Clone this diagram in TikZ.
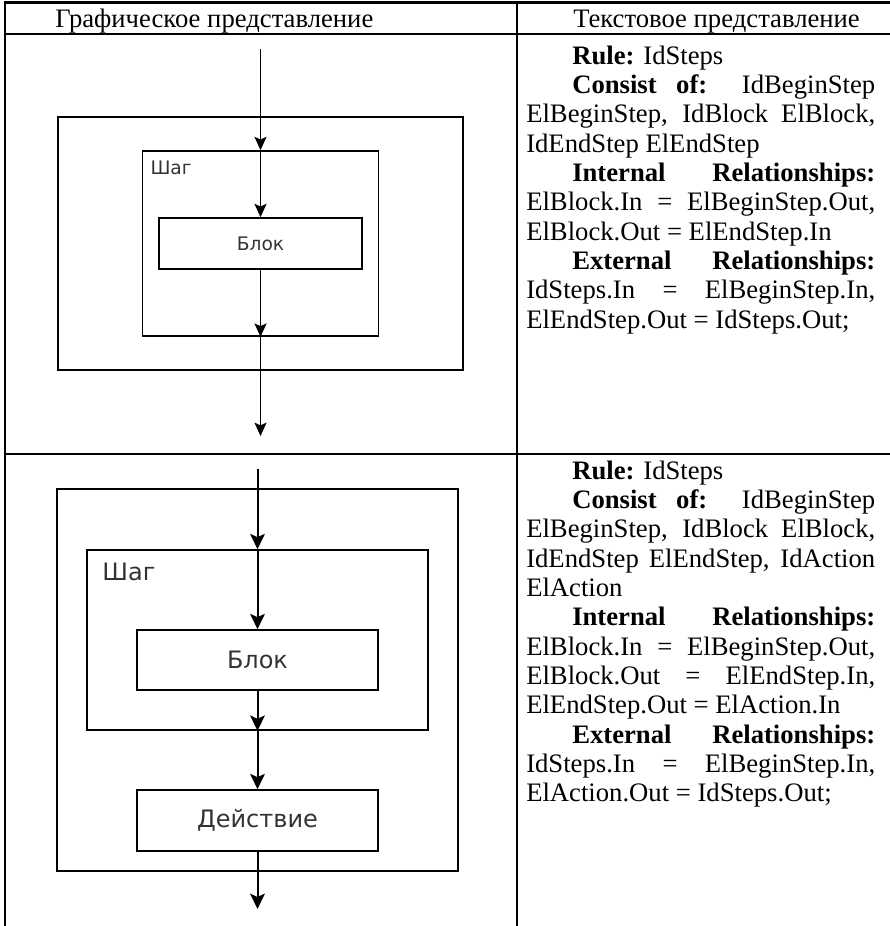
\documentclass[tikz,border=0pt]{standalone}
\usepackage{fontspec}
\setmainfont{Liberation Serif}
\newfontfamily\diagfont{DejaVu Sans}
\usetikzlibrary{arrows.meta}
\hyphenpenalty=10000
\exhyphenpenalty=10000
\tolerance=9999

\tikzset{
  grid line/.style={line width=1.6pt},
  box/.style={draw, line width=1.2pt, inner sep=0pt, text=black!80},
  small type/.style={font=\diagfont\fontsize{14pt}{16pt}\selectfont},
  large type/.style={font=\diagfont\fontsize{18pt}{20pt}\selectfont},
  flow/.style={line width=1.4pt, -{Stealth[length=10pt,width=9pt,inset=2pt]}},
  big flow/.style={line width=1.5pt, -{Stealth[length=11.5pt,width=11pt,inset=2.5pt]}},
  head text/.style={anchor=base west, inner sep=0pt, font=\fontsize{20pt}{22pt}\selectfont},
  cell text/.style={anchor=base west, inner sep=0pt, text width=261.75pt, align=justify,
    font=\fontsize{20pt}{22pt}\selectfont},
}

\begin{document}
\begin{tikzpicture}[x=0.75pt, y=-0.75pt]
    \useasboundingbox (0,0) rectangle (890,926);
    \pgfmathsetmacro{\indw}{34.5}  % paragraph indent, pt

    % table rules
    \draw[grid line] (4,2.5) -- (890,2.5);
    \draw[grid line] (4,34) -- (890,34);
    \draw[grid line] (4,454) -- (890,454);
    \draw[grid line] (5,2.5) -- (5,926);
    \draw[grid line] (517,2.5) -- (517,926);

    % column heads
    \node[head text] (headL) at (55,27) {Графическое представление};
    \node[head text] (headR) at (573,27) {Текстовое представление};

    % first picture: step holding a block
    \node[box, minimum width=303.75pt, minimum height=189.75pt] (outer1) at (260.5,243.5) {};
    \node[box, minimum width=177pt, minimum height=138.75pt] (sag1) at (260.5,243.5) {};
    \node[box, small type, minimum width=152.25pt, minimum height=38.25pt] (blok1) at (260.5,243.5) {Блок};
    \node[small type, text=black!80, anchor=base west, inner sep=0pt] (saglbl1)
        at ([xshift=6.4pt, yshift=-18pt]sag1.north west) {Шаг};
    \coordinate (in1) at (260.5,49);
    \coordinate (out1) at (260.5,436);
    \draw[flow] (in1) -- (sag1.north);
    \draw[flow] (sag1.north) -- (blok1.north);
    \draw[flow] (blok1.south) -- (sag1.south);
    \draw[flow] (sag1.south) -- (out1);

    % second picture: step followed by an action
    \node[box, minimum width=300.75pt, minimum height=286.5pt] (outer2) at (257.5,680) {};
    \node[box, minimum width=255.75pt, minimum height=135pt] (sag2) at (257.5,640) {};
    \node[box, large type, minimum width=180.75pt, minimum height=45pt] (blok2) at (257.5,660) {Блок};
    \node[box, large type, minimum width=180.75pt, minimum height=45.75pt] (act2) at (257.5,820.5) {Действие};
    \node[large type, text=black!80, anchor=base west, inner sep=0pt] (saglbl2)
        at ([xshift=12pt, yshift=-23.25pt]sag2.north west) {Шаг};
    \coordinate (in2) at (257.5,469);
    \coordinate (out2) at (257.5,909);
    \draw[big flow] (in2) -- (sag2.north);
    \draw[big flow] (sag2.north) -- (blok2.north);
    \draw[big flow] (blok2.south) -- (sag2.south);
    \draw[big flow] (sag2.south) -- (act2.north);
    \draw[big flow] (act2.south) -- (out2);

    % textual form, first row
    \node[cell text] (rule1) at (526,64) {%
        \hspace*{\indw pt}\textbf{Rule:} IdSteps\par
        \hspace*{\indw pt}\textbf{Consist of:} IdBeginStep\linebreak
        ElBeginStep, IdBlock ElBlock,\linebreak
        IdEndStep ElEndStep\par
        \hspace*{\indw pt}\textbf{Internal Relationships:}\linebreak
        ElBlock.In = ElBeginStep.Out,\linebreak
        ElBlock.Out = ElEndStep.In\par
        \hspace*{\indw pt}\textbf{External Relationships:}\linebreak
        IdSteps.In = ElBeginStep.In,\linebreak
        ElEndStep.Out = IdSteps.Out;};

    % textual form, second row
    \node[cell text] (rule2) at (526,479) {%
        \hspace*{\indw pt}\textbf{Rule:} IdSteps\par
        \hspace*{\indw pt}\textbf{Consist of:} IdBeginStep\linebreak
        ElBeginStep, IdBlock ElBlock,\linebreak
        IdEndStep ElEndStep, IdAction\linebreak
        ElAction\par
        \hspace*{\indw pt}\textbf{Internal Relationships:}\linebreak
        ElBlock.In = ElBeginStep.Out,\linebreak
        ElBlock.Out = ElEndStep.In,\linebreak
        ElEndStep.Out = ElAction.In\par
        \hspace*{\indw pt}\textbf{External Relationships:}\linebreak
        IdSteps.In = ElBeginStep.In,\linebreak
        ElAction.Out = IdSteps.Out;};
\end{tikzpicture}
\end{document}
